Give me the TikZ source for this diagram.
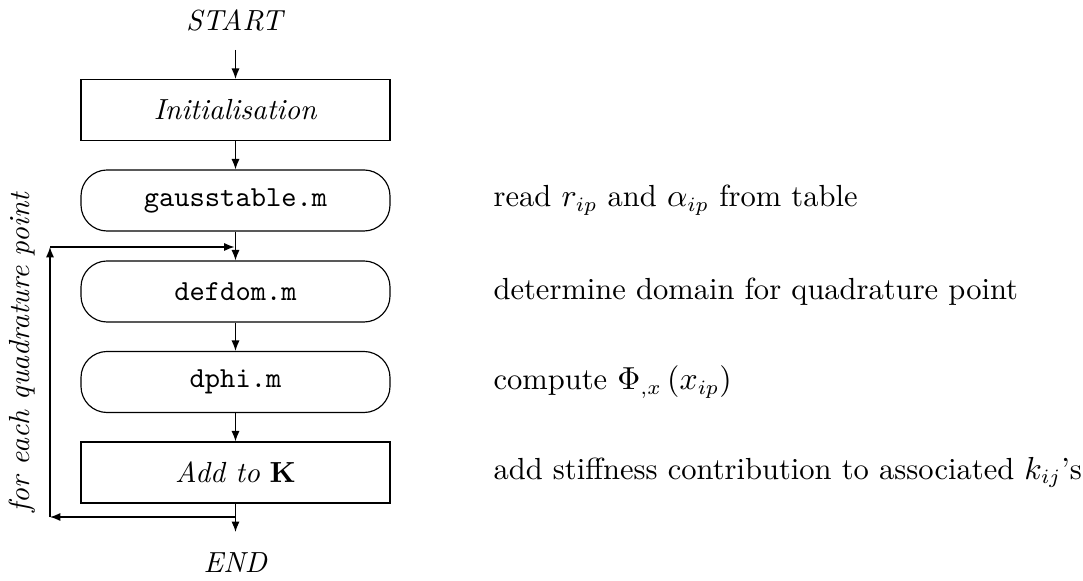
\documentclass[tikz,border=0pt]{standalone}
\usetikzlibrary{arrows.meta}
\begin{document}
\begin{tikzpicture}[x=0.344pt, y=-0.344pt,
  every path/.style={line width=0.4pt},
  arr/.style={-{Latex[length=3.6pt,width=2.8pt]}},
  procbox/.style={draw, rectangle, minimum width=106.3pt, minimum height=21pt, inner sep=0pt},
  filebox/.style={draw, rectangle, rounded corners=9pt, minimum width=106.3pt, minimum height=21pt, inner sep=0pt, font=\ttfamily},
  note/.style={anchor=west, inner sep=0pt, font=\fontsize{10.5}{13}\selectfont}]
  \useasboundingbox (0,0) rectangle (1083,581);

  % terminals
  \node (start) at (235.5,20) {\textit{START}};
  \node (end) at (235.5,563) {\textit{END}};
  \coordinate (starttail) at (235.5,50);
  \coordinate (endtip) at (235.5,532);

  % process chain
  \node[procbox] (init) at (235.5,110) {\textit{Initialisation}};
  \node[filebox] (gauss) at (235.5,200.5) {gausstable.m};
  \node[filebox] (defdom) at (235.5,291.5) {defdom.m};
  \node[filebox] (dphi) at (235.5,382) {dphi.m};
  \node[procbox] (addk) at (235.5,472.5) {\textit{Add to} $\mathbf{K}$};

  \draw[arr] (starttail) -- (init.north);
  \draw[arr] (init.south) -- (gauss.north);
  \draw[arr] (gauss.south) -- (defdom.north);
  \draw[arr] (defdom.south) -- (dphi.north);
  \draw[arr] (dphi.south) -- (addk.north);
  \draw[arr] (addk.south) -- (endtip);

  % quadrature loop
  \coordinate (loopout) at (235.5,517);
  \coordinate (loopbl) at (50,517);
  \coordinate (looptl) at (50,247);
  \coordinate (loopin) at (234.5,247);
  \draw[arr] (loopout) -- (loopbl);
  \draw[arr] (loopbl) -- (looptl);
  \draw[arr] (looptl) -- (loopin);
  \node[rotate=90] (looplabel) at (22,352) {\textit{for each quadrature point}};

  % descriptions
  \node[note] (n1) at (493,200.5) {read $r_{ip}$ and $\alpha_{ip}$ from table};
  \node[note] (n2) at (493,291.5) {determine domain for quadrature point};
  \node[note] (n3) at (493,382) {compute $\Phi_{,x}\left(x_{ip}\right)$};
  \node[note] (n4) at (493,472.5) {add stiffness contribution to associated $k_{ij}$'s};
\end{tikzpicture}
\end{document}
